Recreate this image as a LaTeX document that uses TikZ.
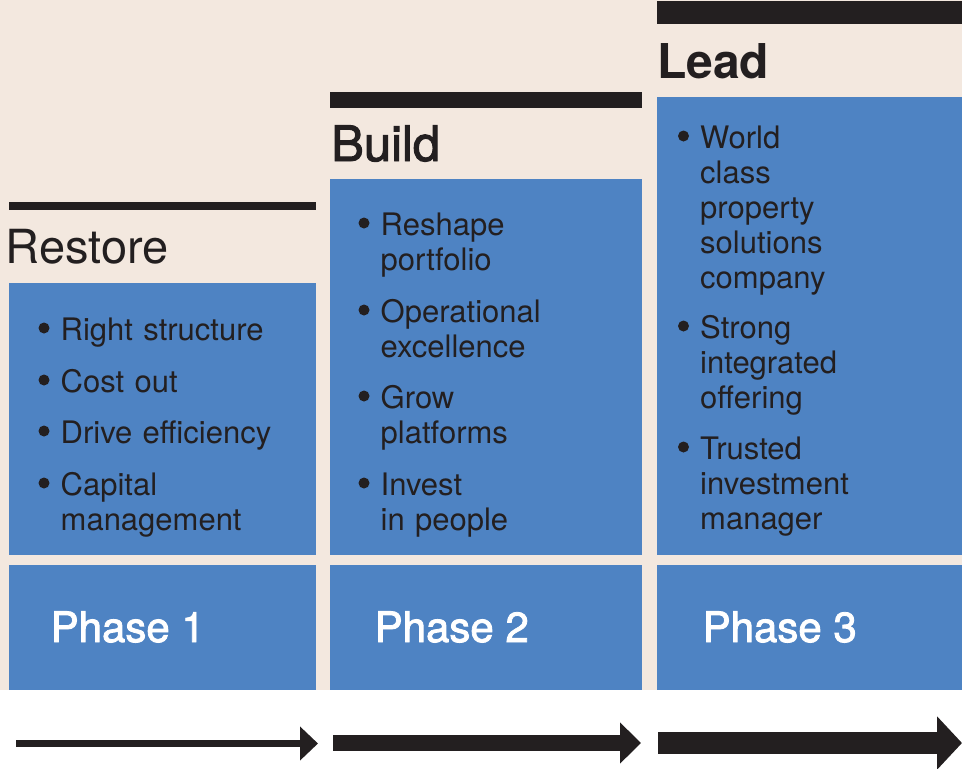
\documentclass[tikz,border=0pt]{standalone}
\usepackage{fontspec}
\setmainfont{TeX Gyre Heros}
\newfontfamily\medfont{TeX Gyre Heros}[FakeBold=2]
\usetikzlibrary{positioning,arrows.meta}

\definecolor{paper}{HTML}{F3E8DF}
\definecolor{panelblue}{HTML}{4E83C3}
\definecolor{ink}{HTML}{231F20}

\begin{document}
\begin{tikzpicture}[
        x=1pt, y=-1pt,
        panel/.style = {fill=panelblue, inner sep=0pt, outer sep=0pt, anchor=north west},
        topbar/.style = {fill=ink, inner sep=0pt, outer sep=0pt, anchor=north west},
        heading/.style = {anchor=base west, inner sep=0pt, text=ink, font=\fontsize{47}{47}\selectfont},
        point/.style = {anchor=base west, inner sep=0pt, text=ink, text width=250pt, align=left, font=\fontsize{31}{35}\selectfont},
        phase/.style = {anchor=base west, inner sep=0pt, text=white, font=\medfont\fontsize{42}{42}\selectfont},
        progress/.style = {draw=ink}]

        % BACKGROUND
        \useasboundingbox (0,0) rectangle (962,769);
        \fill[paper] (0,0) rectangle (962,690);
        \fill[white] (0,690) rectangle (962,769);

        % NODES
        % restore
        \node[topbar, minimum width=307pt, minimum height=8pt] (restore_bar) at (9,202) {};
        \node[heading] (restore_title) at (5.5,263) {Restore};
        \node[panel, minimum width=307pt, minimum height=272pt] (restore_box) at (9,283) {};
        \node[panel, minimum width=307pt, minimum height=125pt] (restore_phase) at (9,565) {};
        \node[point] (restore_a) at (60.5,340) {Right structure};
        \node[point] (restore_b) at (60.5,392) {Cost out};
        \node[point] (restore_c) at (60.5,443) {Drive efficiency};
        \node[point] (restore_d) at (60.5,495) {Capital\\management};
        \node[phase] (restore_label) at (50.5,642) {Phase 1};

        % build
        \node[topbar, minimum width=312pt, minimum height=16pt] (build_bar) at (330,92) {};
        \node[heading, font=\medfont\fontsize{49}{49}\selectfont] (build_title) at (331,161) {Build};
        \node[panel, minimum width=312pt, minimum height=376pt] (build_box) at (330,179) {};
        \node[panel, minimum width=312pt, minimum height=125pt] (build_phase) at (330,565) {};
        \node[point] (build_a) at (380.5,235) {Reshape\\portfolio};
        \node[point] (build_b) at (380.5,322) {Operational\\excellence};
        \node[point] (build_c) at (380.5,408) {Grow\\platforms};
        \node[point] (build_d) at (380.5,495) {Invest\\in people};
        \node[phase] (build_label) at (374.5,642) {Phase 2};

        % lead
        \node[topbar, minimum width=305pt, minimum height=23pt] (lead_bar) at (657,1) {};
        \node[heading, font=\bfseries\fontsize{48}{48}\selectfont] (lead_title) at (657,78) {Lead};
        \node[panel, minimum width=305pt, minimum height=458pt] (lead_box) at (657,97) {};
        \node[panel, minimum width=305pt, minimum height=125pt] (lead_phase) at (657,565) {};
        \node[point] (lead_a) at (700,148) {World\\class\\property\\solutions\\company};
        \node[point] (lead_b) at (700,338) {Strong\\integrated\\offering};
        \node[point] (lead_c) at (700,459) {Trusted\\investment\\manager};
        \node[phase] (lead_label) at (702.5,642) {Phase 3};

        % bullets in front of every point
        \foreach \entry in {restore_a,restore_b,restore_c,restore_d,
                build_a,build_b,build_c,build_d,lead_a,lead_b,lead_c}
            \fill[ink] ([xshift=-16.5pt,yshift=12pt]\entry.base west) circle (5.5pt);

        % ARROWS
        \coordinate (restore_from) at (16,743.5);
        \coordinate (restore_to) at (318,743.5);
        \coordinate (build_from) at (333,743);
        \coordinate (build_to) at (641,743);
        \coordinate (lead_from) at (658,743);
        \coordinate (lead_to) at (962,743);
        \draw[progress, line width=7pt, -{Triangle[length=18pt,width=33pt]}] (restore_from)--(restore_to);
        \draw[progress, line width=16pt, -{Triangle[length=21pt,width=40pt]}] (build_from)--(build_to);
        \draw[progress, line width=22pt, -{Triangle[length=25pt,width=52pt]}] (lead_from)--(lead_to);
\end{tikzpicture}
\end{document}
